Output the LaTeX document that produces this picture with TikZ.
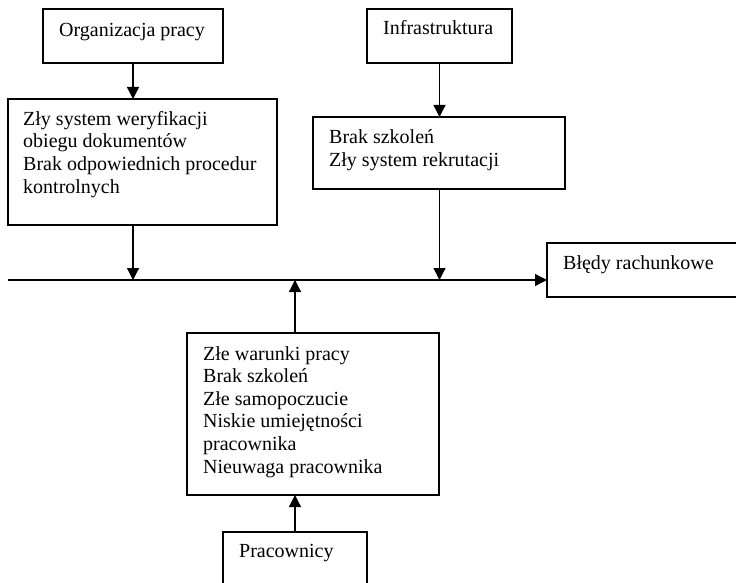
\documentclass[tikz,border=0pt]{standalone}
\usepackage{fontspec}
\setmainfont{Liberation Serif}
\usetikzlibrary{arrows.meta}
\begin{document}
\begin{tikzpicture}[x=1pt,y=-1pt,
  box/.style={draw,line width=1.3pt,rectangle,anchor=north west,inner sep=0pt,outer sep=0pt},
  txt/.style={inner sep=0pt,anchor=base west,align=left,font=\fontsize{20}{22.6}\selectfont},
  arr/.style={line width=1.3pt,-{Triangle[length=12pt,width=12pt]}}]
\useasboundingbox (0,0) rectangle (736,583);
\clip (0,0) rectangle (736,583);
\node[box,minimum width=180pt,minimum height=54pt] (org) at (43,9) {};
\node[box,minimum width=145pt,minimum height=54pt] (infra) at (367,9) {};
\node[box,minimum width=269pt,minimum height=126pt] (zly) at (8,99) {};
\node[box,minimum width=252pt,minimum height=72pt] (brak) at (313,117) {};
\node[box,minimum width=198pt,minimum height=54pt] (bledy) at (547,243) {};
\node[box,minimum width=252pt,minimum height=162pt] (war) at (187,333) {};
\node[box,minimum width=144pt,minimum height=68pt] (prac) at (223,532) {};
\node[txt] (torg) at (59,37) {Organizacja pracy};
\node[txt] (tinfra) at (383,35) {Infrastruktura};
\node[txt] (tzly) at (23,193) {Zły system weryfikacji\\obiegu dokumentów\\Brak odpowiednich procedur\\kontrolnych};
\node[txt] (tbrak) at (329,166) {Brak szkoleń\\Zły system rekrutacji};
\node[txt] (tbledy) at (563,269) {Błędy rachunkowe};
\node[txt] (twar) at (203,473) {Złe warunki pracy\\Brak szkoleń\\Złe samopoczucie\\Niskie umiejętności\\pracownika\\Nieuwaga pracownika};
\node[txt] (tprac) at (239,557) {Pracownicy};
\coordinate (start) at (8,280);
\draw[arr] (start) -- (start -| bledy.west);
\draw[arr] (org.south) -- (org.south |- zly.north);
\draw[arr] (org.south |- zly.south) -- (org.south |- start);
\draw[arr] (infra.south) -- (infra.south |- brak.north);
\draw[arr] (infra.south |- brak.south) -- (infra.south |- start);
\draw[arr] (prac.north) -- (prac.north |- war.south);
\draw[arr] (prac.north |- war.north) -- (prac.north |- start);
\end{tikzpicture}
\end{document}
